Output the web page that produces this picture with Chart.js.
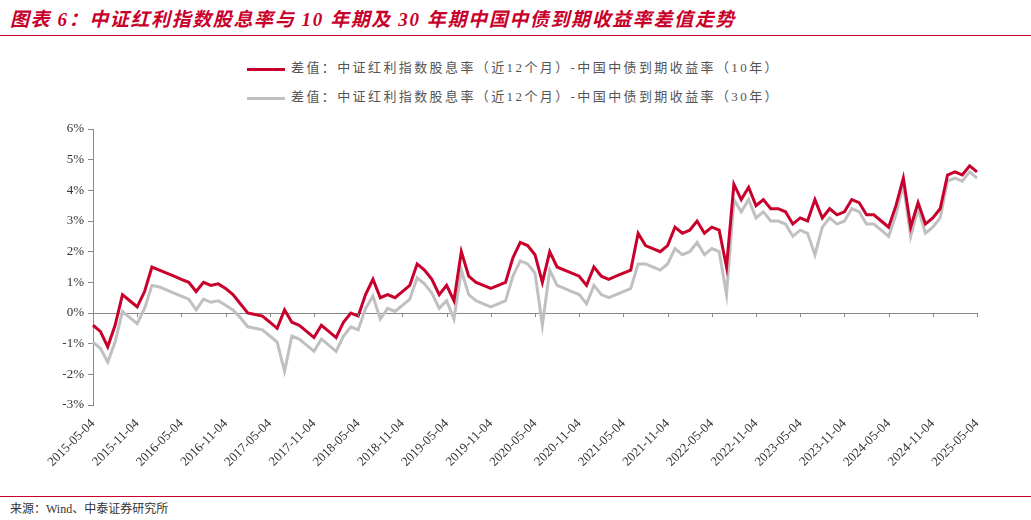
<!DOCTYPE html>
<html><head><meta charset="utf-8">
<script src="https://cdn.jsdelivr.net/npm/chart.js@4"></script>
<style>
body{margin:0;width:1031px;height:520px;position:relative;background:#fff;font-family:"Liberation Serif","Noto Sans CJK SC",serif;overflow:hidden}
#title{position:absolute;left:10px;top:4px;color:#c8002b;font-weight:bold;font-style:italic;font-size:19px;letter-spacing:1.6px;font-family:"Liberation Serif","Noto Sans CJK SC",serif}
#tl{position:absolute;left:0;top:35px;width:1031px;height:1px;background:#c8002b}
#fl{position:absolute;left:0;top:496px;width:1031px;height:1px;background:#c8002b}
#foot{position:absolute;left:10px;top:499px;font-size:12px;color:#333}
.lg{position:absolute;left:247px;font-size:13px;letter-spacing:2.4px;color:#555}
.lg span{display:inline-block;width:38px;height:3px;vertical-align:middle;margin-right:6px}
canvas{position:absolute;left:0;top:0}
</style></head><body>
<div id="title">图表 6：中证红利指数股息率与 10 年期及 30 年期中国中债到期收益率差值走势</div>
<div id="tl"></div>
<div class="lg" style="top:57px"><span style="background:#c8002b"></span>差值：中证红利指数股息率（近12个月）-中国中债到期收益率（10年）</div>
<div class="lg" style="top:86px"><span style="background:#c0c0c0"></span>差值：中证红利指数股息率（近12个月）-中国中债到期收益率（30年）</div>
<div id="fl"></div>
<div id="foot">来源：Wind、中泰证券研究所</div>
<canvas id="c" width="1031" height="520"></canvas>
<script>
const seriesNames=["差值：中证红利指数股息率（近12个月）-中国中债到期收益率（10年）","差值：中证红利指数股息率（近12个月）-中国中债到期收益率（30年）"];
const yTicks=[-3,-2,-1,0,1,2,3,4,5,6];
const spread10=[-0.4,-0.6,-1.1,-0.4,0.6,0.4,0.2,0.7,1.5,1.4,1.3,1.2,1.1,1.0,0.7,1.0,0.9,0.95,0.8,0.6,0.3,0.0,-0.05,-0.1,-0.3,-0.5,0.1,-0.3,-0.4,-0.6,-0.8,-0.4,-0.6,-0.8,-0.3,0.0,-0.1,0.6,1.1,0.5,0.6,0.5,0.7,0.9,1.6,1.4,1.1,0.6,0.9,0.4,2.0,1.2,1.0,0.9,0.8,0.9,1.0,1.8,2.3,2.2,1.9,1.0,2.0,1.5,1.4,1.3,1.2,0.9,1.5,1.2,1.1,1.2,1.3,1.4,2.6,2.2,2.1,2.0,2.2,2.8,2.6,2.7,3.0,2.6,2.8,2.7,1.5,4.2,3.7,4.1,3.5,3.7,3.4,3.4,3.3,2.9,3.1,3.0,3.7,3.1,3.4,3.2,3.3,3.7,3.6,3.2,3.2,3.0,2.8,3.5,4.4,2.8,3.6,2.9,3.1,3.4,4.5,4.6,4.5,4.8,4.6];
const spread30=[-0.95,-1.15,-1.6,-0.95,0.05,-0.15,-0.35,0.15,0.9,0.85,0.75,0.65,0.55,0.45,0.1,0.45,0.35,0.4,0.25,0.1,-0.15,-0.45,-0.5,-0.55,-0.75,-0.95,-1.9,-0.75,-0.85,-1.05,-1.25,-0.85,-1.05,-1.25,-0.75,-0.45,-0.55,0.15,0.55,-0.2,0.15,0.05,0.25,0.45,1.15,0.95,0.65,0.15,0.4,-0.2,1.4,0.6,0.4,0.3,0.2,0.3,0.4,1.2,1.7,1.6,1.3,-0.4,1.4,0.9,0.8,0.7,0.6,0.3,0.9,0.6,0.5,0.6,0.7,0.8,1.6,1.6,1.5,1.4,1.6,2.1,1.9,2.0,2.3,1.9,2.1,2.0,0.6,3.7,3.3,3.7,3.1,3.3,3.0,3.0,2.9,2.5,2.7,2.6,1.9,2.8,3.1,2.9,3.0,3.4,3.3,2.9,2.9,2.7,2.5,3.2,4.2,2.5,3.4,2.6,2.8,3.1,4.3,4.4,4.3,4.6,4.4];
const dates=[];
for(let i=0;i<spread10.length;i++){const t=4+i;const y=2015+Math.floor(t/12);const m=t%12+1;dates.push(y+"-"+String(m).padStart(2,"0")+"-04");}
const tickPlugin={id:'xticks',afterDatasetsDraw(ch){const x=ch.scales.x,y=ch.scales.y,ctx=ch.ctx,y0=y.getPixelForValue(0);ctx.save();ctx.strokeStyle='#888';ctx.lineWidth=1;for(let i=0;i<dates.length;i+=6){const px=Math.round(x.getPixelForValue(i))+0.5;ctx.beginPath();ctx.moveTo(px,y0);ctx.lineTo(px,y0+4);ctx.stroke();}ctx.restore();}};
new Chart(document.getElementById('c'),{type:'line',
data:{labels:dates,datasets:[
{label:seriesNames[0],data:spread10,borderColor:'#c8002b',borderWidth:3,pointRadius:0,tension:0},
{label:seriesNames[1],data:spread30,borderColor:'#c0c0c0',borderWidth:3,pointRadius:0,tension:0}]},
options:{responsive:false,animation:false,layout:{padding:{top:129,right:54,left:0,bottom:0}},
plugins:{legend:{display:false},tooltip:{enabled:false}},
scales:{
x:{offset:false,grid:{display:false},border:{display:false},afterFit(s){s.height=115;},
 ticks:{autoSkip:false,maxRotation:45,minRotation:45,color:'#333',font:{family:'Liberation Serif',size:13},callback(v,i){return i%6===0?dates[i]:null;}}},
y:{min:-3,max:6,afterFit(s){s.width=93;},afterBuildTicks(s){s.ticks=yTicks.map(v=>({value:v}));},
 border:{display:true,color:'#888'},
 grid:{color:c=>c.tick&&c.tick.value===0?'#888':'rgba(0,0,0,0)',tickColor:'#888',tickLength:5,lineWidth:1},
 ticks:{color:'#333',padding:4,font:{family:'Liberation Serif',size:13},callback:v=>v+'%'}}}},
plugins:[tickPlugin]});
</script></body></html>
